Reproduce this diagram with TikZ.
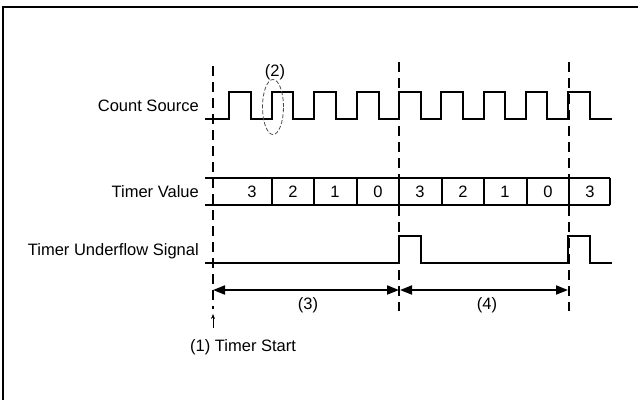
\documentclass[tikz,border=0pt]{standalone}
\usepackage{fontspec}
\setmainfont{Liberation Sans}
\usetikzlibrary{arrows.meta,shapes.geometric}
\begin{document}
\begin{tikzpicture}[x=1pt,y=-1pt,
  sig/.style={line width=1.8pt,line join=miter},
  boxline/.style={line width=1.6pt},
  guide/.style={line width=1.5pt,dash pattern=on 10pt off 6pt},
  lab/.style={font=\fontsize{16.5}{18}\selectfont,inner sep=0pt},
  span/.style={line width=1.8pt,{Triangle[length=12pt,width=9pt]}-{Triangle[length=12pt,width=9pt]}}]
\useasboundingbox (0,0) rectangle (638,400);
% frame
\draw[line width=2.5pt] (3,400) -- (3,7) -- (638,7);
% guide lines
\coordinate (g1t) at (213,66); \coordinate (g1b) at (213,309);
\coordinate (g2t) at (399,62); \coordinate (g2b) at (399,311);
\coordinate (g3t) at (569,62); \coordinate (g3b) at (569,311);
\draw[guide] (g1t) -- (g1b);
\draw[guide] (g2t) -- (g2b);
\draw[guide] (g3t) -- (g3b);
% labels
\node[lab,anchor=east] (cs) at (199,106) {Count Source};
\node[lab,anchor=east] (tv) at (199,192) {Timer Value};
\node[lab,anchor=east] (tu) at (199,251) {Timer Underflow Signal};
% count source
\draw[sig] (205,119)
  \foreach \r/\f in {229/251,272/293,314/336,357/379,399/421,441/463,484/505,526/547,568/590}
  { -- (\r,119) -- (\r,92) -- (\f,92) -- (\f,119) } -- (612,119);
% ellipse (2)
\node[draw=black!70,dash pattern=on 4pt off 2pt,line width=0.8pt,ellipse,minimum width=21pt,minimum height=55pt,inner sep=0pt] (el) at (273,107) {};
\node[lab] (l2) at (275,72) {(2)};
% timer value box
\draw[boxline] (205,178) -- (610,178);
\draw[boxline] (205,205) -- (610,205);
\foreach \x in {272,314,357,399,442,484,527,569,610}
  \draw[boxline] (\x,178) -- (\x,205);
\foreach \x/\v [count=\i] in {252/3,293/2,335/1,378/0,420/3,463/2,505/1,548/0,590/3}
  \node[lab] (v\i) at (\x,192) {\v};
% underflow signal
\draw[sig] (205,263) -- (399,263) -- (399,236) -- (421,236) -- (421,263)
  -- (568,263) -- (568,236) -- (590,236) -- (590,263) -- (612,263);
% spans
\coordinate (a1) at (213,290); \coordinate (a2) at (399,290); \coordinate (a3) at (569,290);
\draw[span] (a1) -- (a2);
\draw[span] ([xshift=1pt]a2) -- ([xshift=-1pt]a3);
\node[lab] (l3) at (308,305) {(3)};
\node[lab] (l4) at (487,305) {(4)};
% timer start
\coordinate (s1) at (213,328); \coordinate (s2) at (213,314);
\draw[line width=0.8pt,-{Stealth[length=5pt,width=4pt]}] (s1) -- (s2);
\node[lab,anchor=west] (l1) at (190,347) {(1) Timer Start};
\end{tikzpicture}
\end{document}
